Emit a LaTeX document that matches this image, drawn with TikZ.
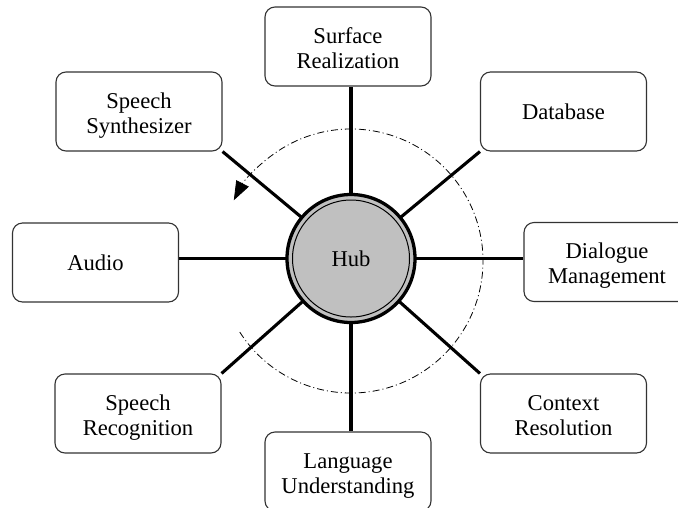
\documentclass[tikz,border=0pt]{standalone}
\usepackage{fontspec}
\setmainfont{Liberation Serif}
\usetikzlibrary{arrows.meta,backgrounds,calc}
\definecolor{hubgray}{RGB}{192,192,192}
\begin{document}
\begin{tikzpicture}[x=1pt,y=1pt,
  modbox/.style={draw=black!80, line width=1.1pt, fill=white, rounded corners=10pt,
    minimum width=166pt, minimum height=79pt, align=center, inner sep=0pt,
    font=\fontsize{22.6}{25}\selectfont},
  twoline/.style={text height=43pt, text depth=0pt},
  link/.style={line width=3.1pt, draw=black},
  hubnode/.style={circle, draw=black, line width=3.3pt, fill=hubgray,
    minimum size=128pt, inner sep=0pt,
    font=\fontsize{22.6}{25}\selectfont},
  cycle arc/.style={line width=0.8pt, dash pattern=on 7pt off 3pt on 1pt off 3pt,
    -{Triangle[length=19pt,width=14pt]}}
]
\useasboundingbox (0,0) rectangle (678,-507);
\clip (0,0) rectangle (678,-507);

\node[hubnode] (hub) at (351,-258.5) {Hub};
\draw[line width=1pt] (hub.center) circle (58.5);

\node[modbox,twoline] (ss)   at (139,-111.5)   {Speech\\Synthesizer};
\node[modbox,twoline] (sr)   at (348,-46.5)    {Surface\\Realization};
\node[modbox]         (db)   at (563.5,-111.5) {Database};
\node[modbox,twoline] (dm)   at (607,-262)     {Dialogue\\Management};
\node[modbox,twoline] (cr)   at (563.5,-413.5) {Context\\Resolution};
\node[modbox,twoline] (lu)   at (348,-471.5)   {Language\\Understanding};
\node[modbox,twoline] (srec) at (138,-413.5)   {Speech\\Recognition};
\node[modbox]         (au)   at (95.5,-262.5)  {Audio};

\coordinate (arccenter) at (351,-261);
\coordinate (arcstart) at ($(arccenter)+(212.6:132)$);

\begin{scope}[on background layer]
  \draw[link] (hub.center) -- (hub.center |- sr.south);
  \draw[link] (hub.center) -- (hub.center |- lu.north);
  \draw[link] (hub.center) -- (hub.center -| au.east);
  \draw[link] (hub.center) -- (hub.center -| dm.west);
  \draw[link] (hub.center) -- (ss.south east);
  \draw[link] (hub.center) -- (db.south west);
  \draw[link] (hub.center) -- (srec.north east);
  \draw[link] (hub.center) -- (cr.north west);
\end{scope}
\draw[cycle arc] (arcstart) arc[start angle=212.6, end angle=512.6, radius=132];
\end{tikzpicture}
\end{document}
